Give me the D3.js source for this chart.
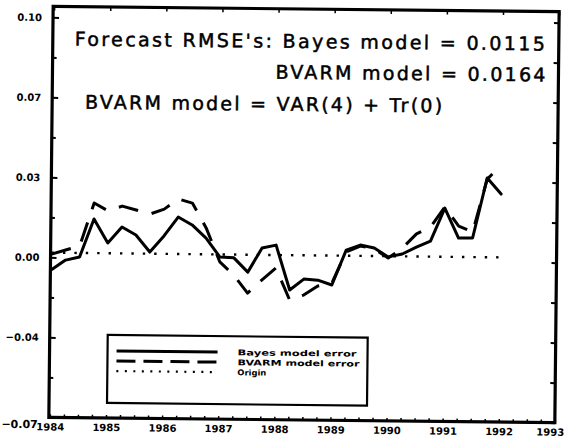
<!DOCTYPE html>
<html>
<head>
<meta charset="utf-8">
<script src="https://cdn.jsdelivr.net/npm/d3@7"></script>
<style>
  html, body { margin: 0; padding: 0; background: #fff; }
  svg { display: block; }
</style>
</head>
<body>
<script>
// Quarterly forecast dates
const quarters = [
  1984.00, 1984.25, 1984.50, 1984.75,
  1985.00, 1985.25, 1985.50, 1985.75,
  1986.00, 1986.25, 1986.50, 1986.75,
  1987.00, 1987.25, 1987.50, 1987.75,
  1988.00, 1988.25, 1988.50, 1988.75,
  1989.00, 1989.25, 1989.50, 1989.75,
  1990.00, 1990.25, 1990.50, 1990.75,
  1991.00, 1991.25, 1991.50, 1991.75,
  1992.00
];

// Forecast errors of the two models
const bayesError = [
  -0.0073, -0.0031, -0.0017, 0.0145,
   0.0044,  0.0112,  0.0079, 0.0007,
   0.0076,  0.0157,  0.0124, 0.0069,
  -0.0011, -0.0014, -0.0074, 0.0029,
   0.0042, -0.0148, -0.0101, -0.0105,
  -0.0125,  0.0024,  0.0046, 0.0034,
  -0.0003,  0.0010,  0.0040, 0.0066,
   0.0207,  0.0080,  0.0081, 0.0337,
   0.0269
];
const bvarmError = [
  -0.0006,  0.0012,  0.0030, 0.0213,
   0.0180,  0.0201,  0.0185, 0.0169,
   0.0190,  0.0234,  0.0217, 0.0112,
  -0.0032, -0.0087, -0.0163, -0.0107,
  -0.0055, -0.0190, -0.0169, -0.0130,
  -0.0117,  0.0016,  0.0042, 0.0030,
  -0.0008,  0.0035,  0.0096, 0.0126,
   0.0212,  0.0131,  0.0107, 0.0332,
   0.0393
];

// Axis ticks
const yearTicks = [1984, 1985, 1986, 1987, 1988, 1989, 1990, 1991, 1992, 1993];
const yTicks = [-0.07, -0.036, -0.002, 0.032, 0.066, 0.10];
const yMinorTicks = [-0.053, -0.019, 0.015, 0.049, 0.083];
const originSpan = [1984, 1992];

// Annotation text
const headerLines = [
  "Forecast RMSE's: Bayes model = 0.0115",
  "BVARM model = 0.0164",
  "BVARM model = VAR(4) + Tr(0)"
];
const legendLabels = ["Bayes model error", "BVARM model error", "Origin"];

const W = 567, H = 448;
const frame = { left: 51, right: 557, top: 9, bottom: 420 };

const svg = d3.select("body").append("svg")
  .attr("width", W).attr("height", H)
  .attr("viewBox", `0 0 ${W} ${H}`);

svg.append("rect").attr("width", W).attr("height", H).attr("fill", "#fff");

// whole figure sits at a slight clockwise tilt
const g = svg.append("g").attr("transform", "rotate(0.6 303 214)");

const x = d3.scaleLinear().domain([1984, 1993]).range([52, 557]);
const y = d3.scaleLinear().domain([-0.07, 0.10]).range([420, 20]);

const fmt = d3.format(".2f");
const axisFont = "'DejaVu Sans', sans-serif";

// left axis: labelled major ticks pointing inward
const left = g.append("g").attr("transform", `translate(${frame.left},0)`)
  .call(d3.axisLeft(y).tickValues(yTicks).tickFormat(fmt).tickSize(-6).tickPadding(11));
left.select(".domain").remove();
left.selectAll("line").attr("stroke", "#000").attr("stroke-width", 2);
left.selectAll("text")
  .attr("font-family", axisFont).attr("font-size", 10).attr("font-weight", "bold")
  .attr("fill", "#000");
left.selectAll(".tick").filter(d => d === -0.07).select("text")
  .attr("font-size", 11).attr("dy", "0.95em");

const leftMinor = g.append("g").attr("transform", `translate(${frame.left},0)`)
  .call(d3.axisLeft(y).tickValues(yMinorTicks).tickFormat("").tickSize(-4));
leftMinor.select(".domain").remove();
leftMinor.selectAll("line").attr("stroke", "#000").attr("stroke-width", 2);

// right axis: inward ticks only
const right = g.append("g").attr("transform", `translate(${frame.right},0)`)
  .call(d3.axisRight(y).tickValues(yTicks.concat(yMinorTicks)).tickFormat("").tickSize(-5));
right.select(".domain").remove();
right.selectAll("line").attr("stroke", "#000").attr("stroke-width", 2);

// bottom axis: year labels and quarterly ticks
const bottom = g.append("g").attr("transform", `translate(0,${frame.bottom})`)
  .call(d3.axisBottom(x).tickValues(yearTicks).tickFormat(d3.format("d")).tickSize(0).tickPadding(6));
bottom.select(".domain").remove();
bottom.selectAll("text")
  .attr("font-family", axisFont).attr("font-size", 10).attr("font-weight", "bold")
  .attr("fill", "#000");
// last year label sits against the right edge of the page
bottom.selectAll(".tick").filter(d => d === 1993).select("text")
  .attr("text-anchor", "end").attr("x", 9);

const bottomMinor = g.append("g").attr("transform", `translate(0,${frame.bottom})`)
  .call(d3.axisBottom(x).tickValues(d3.range(1984, 1993.01, 0.25)).tickFormat("").tickSize(-3));
bottomMinor.select(".domain").remove();
bottomMinor.selectAll("line").attr("stroke", "#000").attr("stroke-width", 1.5);

const topTicks = g.append("g").attr("transform", `translate(0,${frame.top})`)
  .call(d3.axisTop(x).tickValues(yearTicks).tickFormat("").tickSize(-4));
topTicks.select(".domain").remove();
topTicks.selectAll("line").attr("stroke", "#000").attr("stroke-width", 1.5);

// plot frame
g.append("rect")
  .attr("x", frame.left).attr("y", frame.top)
  .attr("width", frame.right - frame.left).attr("height", frame.bottom - frame.top)
  .attr("fill", "none").attr("stroke", "#000").attr("stroke-width", 3.2);

// zero line
g.append("line")
  .attr("x1", x(originSpan[0])).attr("x2", x(originSpan[1]))
  .attr("y1", y(0)).attr("y2", y(0))
  .attr("stroke", "#000").attr("stroke-width", 2.4)
  .attr("stroke-dasharray", "2.4,9");

const line = d3.line()
  .x((d, i) => x(quarters[i]))
  .y(d => y(d));

g.append("path").datum(bvarmError)
  .attr("d", line)
  .attr("fill", "none").attr("stroke", "#000").attr("stroke-width", 3)
  .attr("stroke-dasharray", "20,14")
  .attr("stroke-linejoin", "round");

g.append("path").datum(bayesError)
  .attr("d", line)
  .attr("fill", "none").attr("stroke", "#000").attr("stroke-width", 3)
  .attr("stroke-linejoin", "round").attr("stroke-linecap", "round");

// header annotation
const headFont = "'DejaVu Sans', sans-serif";
const headers = [
  { x: 73,  y: 48,  len: 470 },
  { x: 274, y: 79,  len: 270 },
  { x: 84,  y: 111, len: 357 }
];
g.selectAll("text.head").data(headerLines).enter().append("text")
  .attr("class", "head")
  .attr("x", (d, i) => headers[i].x)
  .attr("y", (d, i) => headers[i].y)
  .attr("textLength", (d, i) => headers[i].len)
  .attr("lengthAdjust", "spacing")
  .attr("font-family", headFont).attr("font-size", 19)
  .attr("fill", "#000").attr("stroke", "#000").attr("stroke-width", 0.5)
  .text(d => d);

// legend
const lg = g.append("g").attr("transform", "translate(109,337)");
lg.append("rect").attr("width", 260).attr("height", 68)
  .attr("fill", "#fff").attr("stroke", "#000").attr("stroke-width", 2.2);

const legendStyles = [
  { dash: null, width: 3 },
  { dash: "19,8", width: 3 },
  { dash: "2,6.5", width: 2.2 }
];
const legendLens = [119, 122, 29];
legendLabels.forEach((label, i) => {
  const ry = 16 + i * 10;
  lg.append("line")
    .attr("x1", 9).attr("x2", 110).attr("y1", ry).attr("y2", ry)
    .attr("stroke", "#000").attr("stroke-width", legendStyles[i].width)
    .attr("stroke-dasharray", legendStyles[i].dash);
  lg.append("text")
    .attr("x", 130).attr("y", ry + 3)
    .attr("textLength", legendLens[i]).attr("lengthAdjust", "spacingAndGlyphs")
    .attr("font-family", axisFont).attr("font-size", 8).attr("font-weight", "bold")
    .attr("fill", "#000")
    .text(label);
});
</script>
</body>
</html>
